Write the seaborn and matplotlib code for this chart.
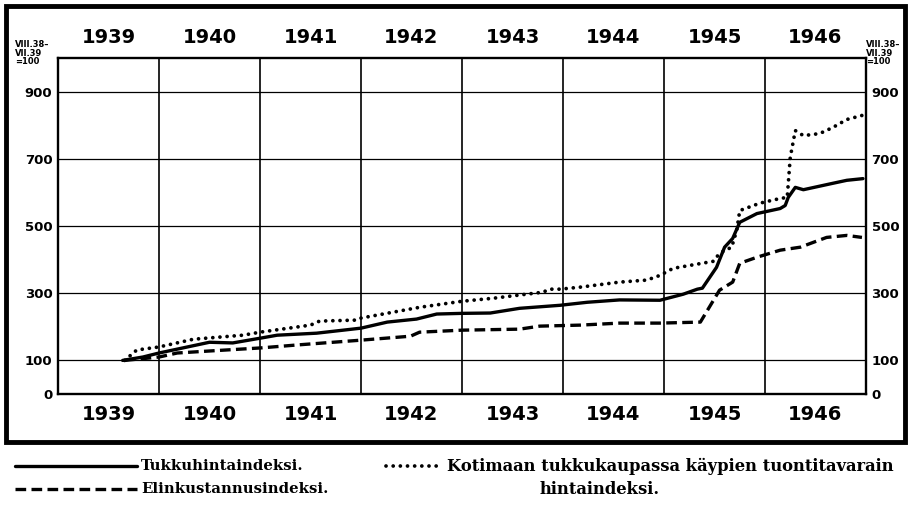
import numpy as np
import pandas as pd
import seaborn as sns
import matplotlib.pyplot as plt
from matplotlib.lines import Line2D
from matplotlib.patches import Rectangle

# aika = vuosi desimaalina, arvot luettu kuvasta (VIII.38-VII.39 = 100)
tukku_aika = [1939.64, 1939.84, 1940.0, 1940.5, 1940.73, 1941.0, 1941.17, 1941.56, 1942.0,
              1942.26, 1942.55, 1942.75, 1943.0, 1943.28, 1943.57, 1943.97, 1944.24, 1944.56,
              1944.96, 1945.19, 1945.33, 1945.38, 1945.52, 1945.6, 1945.68, 1945.75, 1945.92,
              1946.15, 1946.2, 1946.23, 1946.3, 1946.38, 1946.67, 1946.81, 1946.97]
tukku = [100, 110, 122, 154, 152, 166, 175, 181, 196,
         214, 223, 238, 240, 241, 255, 264, 273, 280,
         279, 297, 312, 315, 377, 437, 463, 511, 537,
         552, 561, 585, 615, 608, 627, 636, 641]

elin_aika = [1939.66, 1940.0, 1940.18, 1940.5, 1941.0, 1941.37, 1941.99, 1942.49, 1942.58,
             1943.0, 1943.57, 1943.77, 1944.17, 1944.56, 1944.96, 1945.36, 1945.55, 1945.68,
             1945.75, 1945.92, 1946.15, 1946.35, 1946.61, 1946.81, 1946.96]
elin = [100, 110, 122, 128, 137, 146, 160, 172, 184,
        190, 193, 202, 205, 211, 211, 214, 309, 333,
        389, 407, 428, 437, 466, 472, 466]

tuonti_aika = [1939.66, 1939.78, 1940.0, 1940.34, 1940.83, 1941.0, 1941.5, 1941.59, 1941.96,
               1942.0, 1942.58, 1943.0, 1943.31, 1943.8, 1943.87, 1943.97, 1944.17, 1944.56,
               1944.83, 1944.96, 1945.09, 1945.49, 1945.55, 1945.67, 1945.72, 1945.75, 1945.95,
               1946.15, 1946.22, 1946.25, 1946.3, 1946.38, 1946.54, 1946.67, 1946.81, 1946.96]
tuonti = [100, 131, 140, 163, 175, 184, 205, 217, 220,
          226, 258, 276, 285, 303, 312, 312, 318, 333,
          339, 353, 374, 395, 419, 437, 487, 546, 568,
          582, 585, 704, 784, 769, 775, 793, 817, 829]

vuodet = [1939, 1940, 1941, 1942, 1943, 1944, 1945, 1946]
y_tikit = [0, 100, 300, 500, 700, 900]

df = pd.concat([
    pd.DataFrame({'aika': tukku_aika, 'indeksi': tukku, 'sarja': 'tukku'}),
    pd.DataFrame({'aika': elin_aika, 'indeksi': elin, 'sarja': 'elin'}),
    pd.DataFrame({'aika': tuonti_aika, 'indeksi': tuonti, 'sarja': 'tuonti'}),
])

sns.set_theme(style='white')
plt.rcParams['font.family'] = ['DejaVu Sans']
plt.rcParams['text.color'] = 'black'
plt.rcParams['xtick.color'] = 'black'
plt.rcParams['ytick.color'] = 'black'

fig = plt.figure(figsize=(9.09, 5.05), dpi=100)
ax = fig.add_axes([58 / 909, 111 / 505, 808 / 909, 336 / 505])

tyylit = {
    'tukku': dict(linestyle='-', lw=2.4),
    'elin': dict(linestyle=(0, (3.2, 1.6)), lw=2.4),
    'tuonti': dict(linestyle=(0, (0.01, 1.9)), lw=2.7, dash_capstyle='round'),
}
for sarja, kws in tyylit.items():
    sns.lineplot(data=df[df['sarja'] == sarja], x='aika', y='indeksi', color='black',
                 estimator=None, sort=False, ax=ax, **kws)

ax.set_xlim(1939, 1947)
ax.set_ylim(0, 1000)
ax.set_xlabel('')
ax.set_ylabel('')

ax.set_xticks(list(range(1939, 1948)))
ax.set_xticklabels([''] * 9)
ax.set_xticks([v + 0.5 for v in vuodet], [str(v) for v in vuodet], minor=True)
ax.tick_params(axis='x', which='both', length=0)
ax.tick_params(axis='x', which='minor', pad=8)
for lab in ax.get_xticklabels(minor=True):
    lab.set_fontsize(14)
    lab.set_fontweight('bold')

ylat = ax.secondary_xaxis('top')
ylat.set_xticks([v + 0.5 for v in vuodet], [str(v) for v in vuodet])
ylat.tick_params(length=0, pad=8)
ylat.spines['top'].set_visible(False)
for lab in ylat.get_xticklabels():
    lab.set_fontsize(14)
    lab.set_fontweight('bold')

ax.set_yticks(y_tikit)
ax.set_yticklabels([str(v) for v in y_tikit], fontsize=9.5, fontweight='bold')
ax.tick_params(axis='y', length=0, pad=4, labelright=True)

ax.grid(True, which='major', axis='y', color='black', lw=0.9)
ax.grid(True, which='major', axis='x', color='black', lw=1.2)
for s in ax.spines.values():
    s.set_visible(True)
    s.set_color('black')
    s.set_linewidth(1.7)

# perusjakso-merkintä
for x in [15 / 909, 866 / 909]:
    fig.text(x, 1 - 40 / 505, 'VIII.38–\nVII.39\n=100', fontsize=6, fontweight='bold',
             ha='left', va='top', linespacing=0.95)

# kehys
fig.add_artist(Rectangle((6 / 909, 1 - 442 / 505), 899 / 909, 436 / 505, fill=False,
                         lw=3.5, edgecolor='black', transform=fig.transFigure))

# selite
serif = dict(family='DejaVu Serif', fontweight='bold', va='center')
r1, r2 = 1 - 466 / 505, 1 - 489 / 505
fig.add_artist(Line2D([15 / 909, 137 / 909], [r1, r1], color='black', lw=2.4,
                      transform=fig.transFigure))
fig.add_artist(Line2D([15 / 909, 137 / 909], [r2, r2], color='black', lw=2.4,
                      linestyle=(0, (3.2, 1.6)), transform=fig.transFigure))
fig.add_artist(Line2D([386 / 909, 441 / 909], [r1, r1], color='black', lw=2.7,
                      linestyle=(0, (0.01, 1.9)), dash_capstyle='round',
                      transform=fig.transFigure))
fig.text(141 / 909, r1, 'Tukkuhintaindeksi.', fontsize=10.7, **serif)
fig.text(141 / 909, r2, 'Elinkustannusindeksi.', fontsize=10.7, **serif)
fig.text(447 / 909, r1, 'Kotimaan tukkukaupassa käypien tuontitavarain', fontsize=11.8, **serif)
fig.text(540 / 909, r2, 'hintaindeksi.', fontsize=11.8, **serif)

fig.savefig('out.png', dpi=100)
